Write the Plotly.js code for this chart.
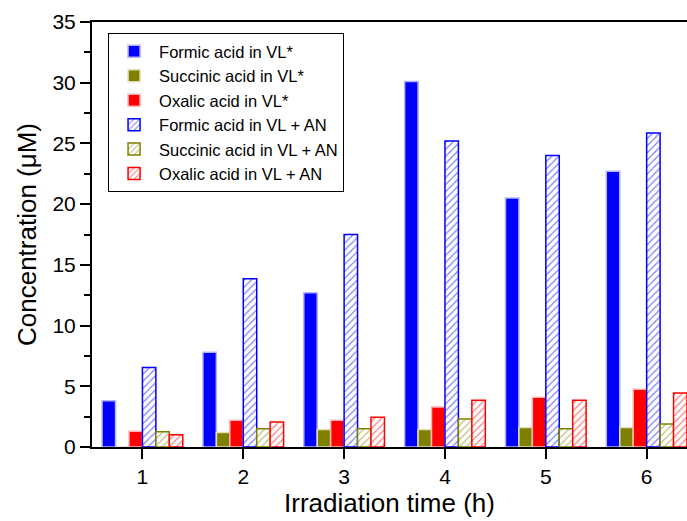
<!DOCTYPE html>
<html>
<head>
<meta charset="utf-8">
<script src="https://cdn.plot.ly/plotly-3.0.1.min.js"></script>
<style>html,body{margin:0;padding:0;background:#fff;}#chart{width:687px;height:521px;}</style>
</head>
<body>
<div id="chart"></div>
<script>
const categories = [1, 2, 3, 4, 5, 6];
const seriesNames = [
  "Formic acid in VL*",
  "Succinic acid in VL*",
  "Oxalic acid in VL*",
  "Formic acid in VL + AN",
  "Succinic acid in VL + AN",
  "Oxalic acid in VL + AN"
];
const formicVL = [3.8, 7.8, 12.7, 30.1, 20.5, 22.7];
const succinicVL = [0, 1.2, 1.45, 1.45, 1.6, 1.6];
const oxalicVL = [1.3, 2.2, 2.2, 3.3, 4.1, 4.75];
const formicAN = [6.55, 13.85, 17.5, 25.2, 24.0, 25.85];
const succinicAN = [1.25, 1.5, 1.5, 2.3, 1.5, 1.9];
const oxalicAN = [1.0, 2.05, 2.45, 3.85, 3.85, 4.45];
const yTickVals = [0, 5, 10, 15, 20, 25, 30, 35];

const font = "Liberation Sans, Arial, sans-serif";

function solid(name, y, color, outline) {
  return {
    type: "bar", name: name, x: categories, y: y,
    marker: {color: color, line: {color: outline, width: 1.5}}
  };
}
function hatched(name, y, color) {
  return {
    type: "bar", name: name, x: categories, y: y,
    marker: {
      color: "#ffffff",
      line: {color: color, width: 1.5},
      pattern: {shape: "/", fgcolor: color, bgcolor: "#ffffff", size: 5, solidity: 0.25, fillmode: "overlay"}
    }
  };
}

const data = [
  solid(seriesNames[0], formicVL, "#0000ff", "#b3b3ff"),
  solid(seriesNames[1], succinicVL, "#808000", "#e0e0b8"),
  solid(seriesNames[2], oxalicVL, "#ff0000", "#ffb3b3"),
  hatched(seriesNames[3], formicAN, "#0000ff"),
  hatched(seriesNames[4], succinicAN, "#808000"),
  hatched(seriesNames[5], oxalicAN, "#ff0000")
];

const layout = {
  width: 687, height: 521,
  margin: {l: 92, r: 0, t: 22, b: 74},
  paper_bgcolor: "#ffffff", plot_bgcolor: "#ffffff",
  font: {family: font, color: "#000"},
  barmode: "group",
  bargap: 0.2, bargroupgap: 0,
  showlegend: true,
  legend: {
    x: 0.027, y: 0.974, xanchor: "left", yanchor: "top",
    bordercolor: "#000", borderwidth: 1, bgcolor: "#fff",
    font: {family: font, size: 16.5, color: "#000"},
    itemwidth: 40, tracegroupgap: 0, traceorder: "normal"
  },
  xaxis: {
    range: [0.5, 6.4],
    tickvals: categories, ticktext: categories.map(String),
    ticks: "outside", ticklen: 10, tickwidth: 2, tickcolor: "#000",
    showline: true, linecolor: "#000", linewidth: 2, mirror: true,
    showgrid: false, zeroline: false,
    tickfont: {family: font, size: 21, color: "#000"},
    title: {text: "Irradiation time (h)", font: {family: font, size: 26, color: "#000"}, standoff: 6}
  },
  yaxis: {
    range: [0, 35],
    tickvals: yTickVals, ticktext: yTickVals.map(String),
    ticks: "outside", ticklen: 10, tickwidth: 2, tickcolor: "#000",
    minor: {dtick: 2.5, tick0: 0, ticks: "outside", ticklen: 6, tickwidth: 2, tickcolor: "#000", showgrid: false},
    showline: true, linecolor: "#000", linewidth: 2,
    showgrid: false, zeroline: false,
    tickfont: {family: font, size: 21, color: "#000"},
    title: {text: "Concentration (\u03bcM)", font: {family: font, size: 26, color: "#000"}, standoff: 8}
  }
};

Plotly.newPlot("chart", data, layout, {displayModeBar: false, staticPlot: true});
</script>
</body>
</html>
